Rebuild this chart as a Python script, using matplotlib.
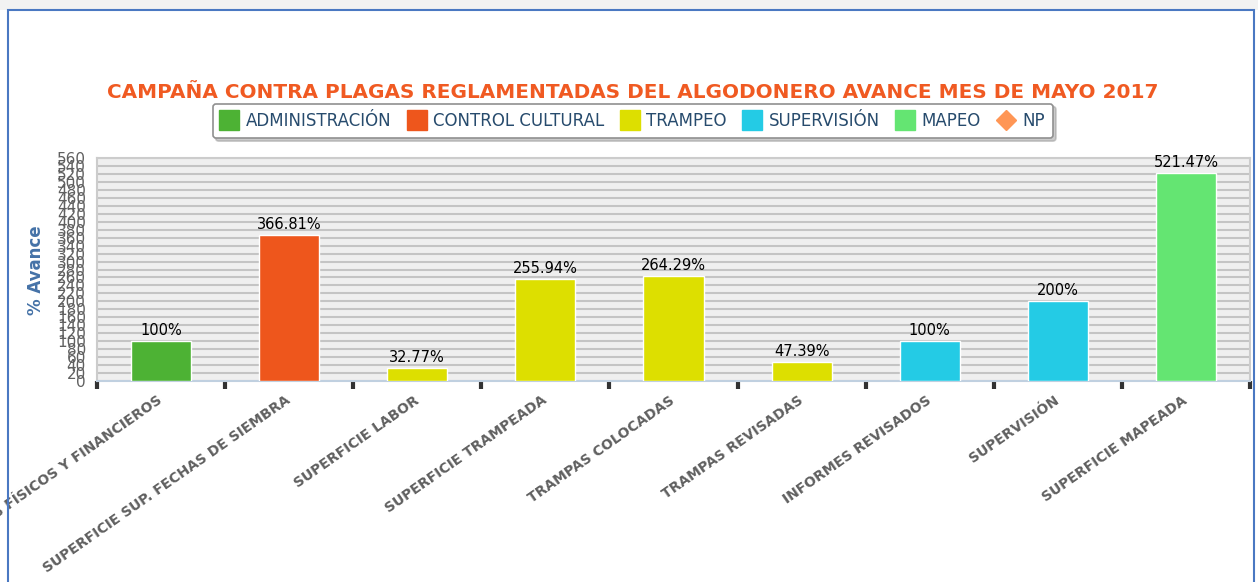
import matplotlib.pyplot as plt
import numpy as np
from matplotlib.lines import Line2D
from matplotlib.patches import Rectangle

plt.rcParams["font.family"] = "DejaVu Sans"

categories = [
    "RECURSOS FÍSICOS Y FINANCIEROS",
    "SUPERFICIE SUP. FECHAS DE SIEMBRA",
    "SUPERFICIE LABOR",
    "SUPERFICIE TRAMPEADA",
    "TRAMPAS COLOCADAS",
    "TRAMPAS REVISADAS",
    "INFORMES REVISADOS",
    "SUPERVISIÓN",
    "SUPERFICIE MAPEADA",
]
values = [100, 366.81, 32.77, 255.94, 264.29, 47.39, 100, 200, 521.47]
value_labels = ["100%", "366.81%", "32.77%", "255.94%", "264.29%",
                "47.39%", "100%", "200%", "521.47%"]
groups = ["ADMINISTRACIÓN", "CONTROL CULTURAL", "TRAMPEO", "TRAMPEO",
          "TRAMPEO", "TRAMPEO", "SUPERVISIÓN", "SUPERVISIÓN", "MAPEO"]
series = ["ADMINISTRACIÓN", "CONTROL CULTURAL", "TRAMPEO", "SUPERVISIÓN",
          "MAPEO", "NP"]
colors = {
    "ADMINISTRACIÓN": "#4db234",
    "CONTROL CULTURAL": "#ee561c",
    "TRAMPEO": "#dddf00",
    "SUPERVISIÓN": "#24cbe5",
    "MAPEO": "#64e572",
    "NP": "#ff9655",
}
yticks = np.arange(0, 561, 20)

fig = plt.figure(figsize=(12.58, 5.82), dpi=100)

# outer frame like the original screenshot
fig.patches.append(Rectangle((0, 1 - 10 / 582), 1, 10 / 582, transform=fig.transFigure,
                             facecolor="#f2f2f2", edgecolor="none", zorder=0))
fig.patches.append(Rectangle((8 / 1258, -0.05), (1254 - 8) / 1258, 1 - 10 / 582 + 0.05,
                             transform=fig.transFigure, facecolor="none",
                             edgecolor="#4a78c2", lw=1.5, zorder=0))

ax = fig.add_axes([97 / 1258, 1 - 381 / 582, (1250 - 97) / 1258, (381 - 158) / 582])
ax.set_facecolor("#efefef")

x = np.arange(len(categories))
bar_colors = [colors[g] for g in groups]
ax.bar(x, values, width=0.47, color=bar_colors, edgecolor="white", lw=1, zorder=3)
for xi, v, lab in zip(x, values, value_labels):
    ax.text(xi, v + 8, lab, ha="center", va="bottom", fontsize=10.5, color="black")

ax.set_xlim(-0.5, len(categories) - 0.5)
ax.set_ylim(0, 560)
ax.set_yticks(yticks)
ax.set_yticklabels([str(t) for t in yticks], fontsize=11, color="#606060")
ax.tick_params(axis="y", length=0, pad=8)
ax.yaxis.grid(True, color="#c4c4c4", lw=1.5, zorder=0)
ax.set_axisbelow(True)

ax.set_xticks(x)
ax.set_xticklabels(categories, rotation=35, ha="right", va="center",
                   rotation_mode="anchor", fontsize=10, fontweight="bold",
                   color="#606060")
ax.tick_params(axis="x", length=0, pad=13)
ax.set_xticks(np.arange(-0.5, len(categories)), minor=True)
ax.tick_params(axis="x", which="minor", length=6, width=3, color="#333333")

for side in ["top", "left", "right"]:
    ax.spines[side].set_color("#cccccc")
    ax.spines[side].set_linewidth(1.5)
ax.spines["bottom"].set_color("#c0d0e0")
ax.spines["bottom"].set_linewidth(1.5)

fig.text(36 / 1258, 1 - 270 / 582, "% Avance", rotation=90, ha="center", va="center",
         fontsize=12, fontweight="bold", color="#4572a7")

fig.text(633 / 1258, 1 - 92 / 582,
         "CAMPAÑA CONTRA PLAGAS REGLAMENTADAS DEL ALGODONERO AVANCE MES DE MAYO 2017",
         ha="center", va="center", fontsize=14.4, fontweight="bold", color="#f05a22")

handles = []
for s in series:
    if s == "NP":
        handles.append(Line2D([], [], marker="D", ls="none", markersize=10,
                              markerfacecolor=colors[s], markeredgecolor=colors[s]))
    else:
        handles.append(Line2D([], [], marker="s", ls="none", markersize=14,
                              markerfacecolor=colors[s], markeredgecolor=colors[s]))
leg = fig.legend(handles, series, loc="center", bbox_to_anchor=(633 / 1258, 1 - 121 / 582),
                 ncol=6, frameon=True, fancybox=True,
                 shadow={"color": "#999999", "alpha": 0.5},
                 fontsize=12, handlelength=1.0, handletextpad=0.5, columnspacing=1.0,
                 borderpad=0.5, labelcolor="#274b6d")
leg.get_frame().set_edgecolor("#909090")
leg.get_frame().set_linewidth(1.2)

fig.savefig("out.png", dpi=100)
